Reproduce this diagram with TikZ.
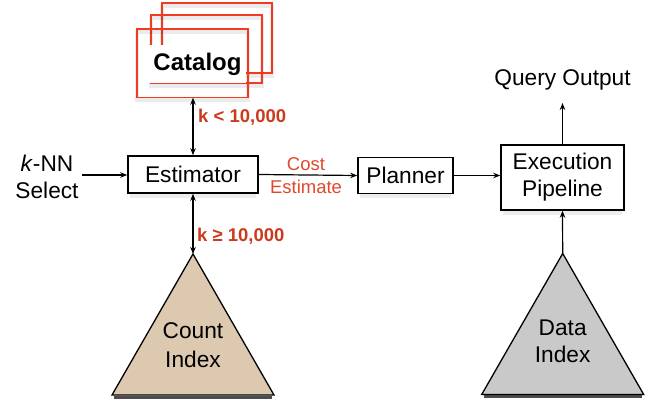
\documentclass[tikz,border=0pt]{standalone}
\usepackage{fontspec}
\setmainfont{Liberation Sans}
\usetikzlibrary{arrows.meta}
\definecolor{lblred}{HTML}{CC3A1E}
\definecolor{costred}{HTML}{E0482C}
\definecolor{framered}{HTML}{F03B20}
\definecolor{tanfill}{HTML}{DCC9AF}
\definecolor{grayfill}{HTML}{C9C9C9}
\tikzset{
  mainfont/.style={font=\fontsize{22.7}{27}\selectfont},
  procbox/.style={draw=black, line width=1.5pt, fill=white, inner sep=0pt, align=center, mainfont},
  frame/.style={draw=framered, line width=1.6pt},
  frameshadow/.style={draw=black, line width=4pt, opacity=0.08},
  boxshadow/.style={draw=black, line width=5pt, opacity=0.07},
  trishadow/.style={draw=black, line width=3pt, opacity=0.7},
  conn/.style={line width=1.2pt, -{Stealth[length=7pt,width=5.5pt]}},
  dconn/.style={line width=1.2pt, {Stealth[length=7pt,width=5.5pt]}-{Stealth[length=7pt,width=5.5pt]}},
  redlbl/.style={text=lblred, font=\fontsize{18.5}{22}\selectfont\bfseries, inner sep=0pt, anchor=west},
  tri/.style={draw=black, line width=1.3pt, line join=miter},
  plain/.style={mainfont, align=center, inner sep=0pt}
}
\begin{document}
\begin{tikzpicture}[x=1pt,y=-1pt]
\useasboundingbox (0,0) rectangle (662,403);
% Catalog stack
\draw[frameshadow] (161.7,6) rectangle (272,76);
\draw[frame] (161.7,3.3) rectangle (272,73);
\draw[frameshadow] (151,18) rectangle (261.7,86);
\draw[frame] (151,15) rectangle (261.7,83);
\draw[frameshadow] (137,32) rectangle (248,100.5);
\node[fill=white, minimum width=97pt, minimum height=38pt, inner sep=0pt,
  font=\fontsize{24}{28}\selectfont\bfseries] (catalog) at (197.5,64) {Catalog};
\draw[frame] (137,29) rectangle (248,97.7);
\coordinate (catbot) at (193,97.7);
% box shadows
\draw[boxshadow] (130,196) -- (256,196);
\draw[boxshadow] (360,196) -- (451,196);
\draw[boxshadow] (503,213) -- (622,213);
% Estimator, Planner, Execution
\node[procbox, minimum width=130pt, minimum height=37pt] (est) at (193,174.5) {Estimator};
\node[procbox, minimum width=95pt, minimum height=35.6pt] (plan) at (405.5,175.5) {Planner};
\node[procbox, minimum width=123pt, minimum height=65pt] (exec) at (562.5,177.5) {Execution\\Pipeline};
% k-NN select
\node[plain, inner sep=3pt] (knn) at (47,177) {\textit{k}-NN\\Select};
\draw[conn] (82,175) coordinate (knnout) -- (est.west |- knnout);
% Cost estimate
\node[text=costred, font=\fontsize{18.5}{23}\selectfont, align=center, inner sep=0pt] (cost) at (306,175.5) {Cost\\Estimate};
\draw[conn] (est.east) -- (plan.west);
\draw[conn] (plan.east) -- (exec.west |- plan.east);
% Query output
\node[plain] (qo) at (562.5,80) {Query Output};
\coordinate (qoin) at (562.5,103);
\draw[conn] (exec.north) -- (qoin);
% Catalog arrow
\draw[dconn] (catbot) -- (est.north);
\node[redlbl] (klt) at (198,117) {k < 10,000};
% Triangles
\draw[trishadow] (114,397.5) -- (272,397.5);
\coordinate (capex) at (193,254);
\draw[tri, fill=tanfill] (capex) -- (274,395) -- (112,395) -- cycle;
\node[plain] (cidx1) at (193,331) {Count};
\node[plain] (cidx2) at (193,359) {Index};
\draw[trishadow] (483.7,397) -- (641.7,397);
\coordinate (dapex) at (562.7,253.5);
\draw[tri, fill=grayfill] (dapex) -- (643.7,394.5) -- (481.7,394.5) -- cycle;
\node[plain] (didx) at (562.7,341) {Data\\Index};
\draw[dconn] (est.south) -- (capex);
\node[redlbl] (kge) at (197,236) {k ≥ 10,000};
\draw[conn] (dapex) -- (exec.south);
\end{tikzpicture}
\end{document}
